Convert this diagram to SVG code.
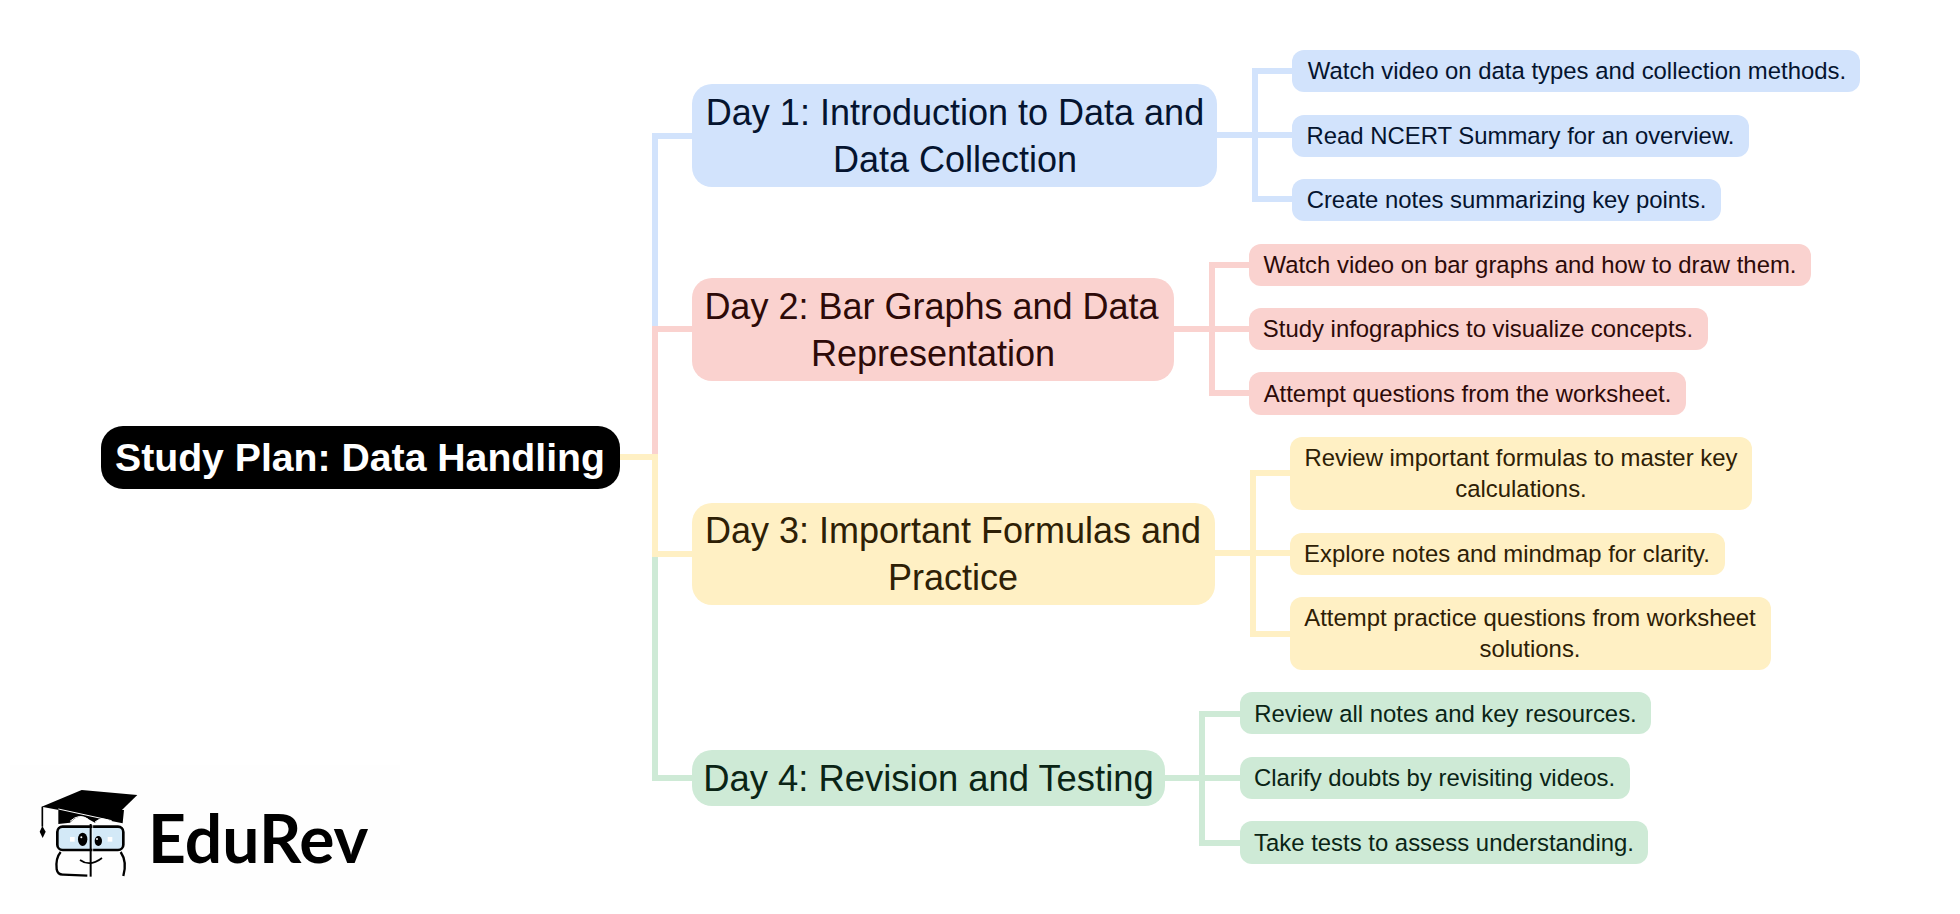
<svg xmlns="http://www.w3.org/2000/svg" width="1960" height="914" viewBox="0 0 1960 914">
<style>
text{font-family:"Liberation Sans",Arial,sans-serif;text-anchor:middle}
.d{font-size:36px}.s{font-size:23.9px}
.c{fill:none;stroke-width:6}
.bc{stroke:#d2e3fc}.rc{stroke:#fad2cf}.yc{stroke:#fff0c4}.gc{stroke:#ceead6}
.b{fill:#d2e3fc}.r{fill:#fad2cf}.y{fill:#fff0c4}.g{fill:#ceead6}
.bt{fill:#05142f}.rt{fill:#2d0a08}.yt{fill:#2e2005}.gt{fill:#0a2415}
</style>
<rect width="1960" height="914" fill="#fff"/>
<g id="connectors">
<path class="c bc" d="M655 454V136H692"/>
<path class="c rc" d="M655 454V329H692"/>
<path class="c gc" d="M655 557V778H692"/>
<path class="c yc" d="M620 457H655V554H692"/>
<path class="c bc" d="M1217 135H1292M1292 71H1255V199H1292"/>
<path class="c rc" d="M1174 329H1249M1249 265H1212V393H1249"/>
<path class="c yc" d="M1215 553H1290M1290 473H1253V634H1290"/>
<path class="c gc" d="M1165 778H1240M1240 714H1202V843H1240"/>
</g>
<g id="root"><rect x="101" y="426" width="519" height="63" rx="22" fill="#000"/><text x="360" y="471" font-size="39.200" font-weight="700" fill="#fff">Study Plan: Data Handling</text></g>
<g id="day1"><rect class="b" x="692" y="84" width="525" height="103" rx="20"/><text class="d bt" x="955" y="124.500">Day 1: Introduction to Data and</text><text class="d bt" x="955" y="171.500">Data Collection</text></g>
<g id="day1a"><rect class="b" x="1292" y="50" width="568" height="42" rx="12"/><text class="s bt" x="1577" y="79">Watch video on data types and collection methods.</text></g>
<g id="day1b"><rect class="b" x="1292" y="115" width="457" height="42" rx="12"/><text class="s bt" x="1520.500" y="144">Read NCERT Summary for an overview.</text></g>
<g id="day1c"><rect class="b" x="1292" y="179" width="429" height="42" rx="12"/><text class="s bt" x="1506.500" y="208">Create notes summarizing key points.</text></g>
<g id="day2"><rect class="r" x="692" y="278" width="482" height="103" rx="20"/><text class="d rt" x="931.500" y="318.500">Day 2: Bar Graphs and Data</text><text class="d rt" x="933" y="365.500">Representation</text></g>
<g id="day2a"><rect class="r" x="1249" y="244" width="562" height="42" rx="12"/><text class="s rt" x="1530" y="273">Watch video on bar graphs and how to draw them.</text></g>
<g id="day2b"><rect class="r" x="1249" y="308" width="459" height="42" rx="12"/><text class="s rt" x="1478" y="337">Study infographics to visualize concepts.</text></g>
<g id="day2c"><rect class="r" x="1249" y="372" width="437" height="43" rx="12"/><text class="s rt" x="1467.500" y="402">Attempt questions from the worksheet.</text></g>
<g id="day3"><rect class="y" x="692" y="503" width="523" height="102" rx="20"/><text class="d yt" x="953" y="542.500">Day 3: Important Formulas and</text><text class="d yt" x="953" y="589.500">Practice</text></g>
<g id="day3a"><rect class="y" x="1290" y="437" width="462" height="73" rx="12"/><text class="s yt" x="1521" y="466">Review important formulas to master key</text><text class="s yt" x="1521" y="497">calculations.</text></g>
<g id="day3b"><rect class="y" x="1290" y="533" width="435" height="42" rx="12"/><text class="s yt" x="1507" y="562">Explore notes and mindmap for clarity.</text></g>
<g id="day3c"><rect class="y" x="1290" y="597" width="481" height="73" rx="12"/><text class="s yt" x="1530" y="626">Attempt practice questions from worksheet</text><text class="s yt" x="1530" y="657">solutions.</text></g>
<g id="day4"><rect class="g" x="692" y="750" width="473" height="56" rx="20"/><text class="d gt" x="928.500" y="790.500" style="font-size:36.400px">Day 4: Revision and Testing</text></g>
<g id="day4a"><rect class="g" x="1240" y="692" width="411" height="42" rx="12"/><text class="s gt" x="1445.500" y="722">Review all notes and key resources.</text></g>
<g id="day4b"><rect class="g" x="1240" y="757" width="390" height="42" rx="12"/><text class="s gt" x="1434.500" y="786">Clarify doubts by revisiting videos.</text></g>
<g id="day4c"><rect class="g" x="1240" y="821" width="408" height="43" rx="12"/><text class="s gt" x="1444" y="851">Take tests to assess understanding.</text></g>
<g id="logo">
<rect x="10" y="765" width="390" height="135" fill="#fefefe"/>
<g transform="translate(30 780) scale(.3333)">
<path d="M85 88V132L120 128Q150 95 180 120L195 128Q215 105 240 122L278 130 282 90Z" fill="#000"/>
<path d="M35 80 155 30 322 45 245 120Z" fill="#000"/>
<path d="M85 87 245 122" stroke="#fff" stroke-width="3" fill="none"/>
<path d="M37 80V140" stroke="#000" stroke-width="5" fill="none"/>
<path d="M37 138 47 155 38 174 29 155Z" fill="#000"/>
<rect x="82" y="140" width="198" height="70" rx="16" fill="#d3e9f7" stroke="#000" stroke-width="8"/>
<path d="M92 216Q76 235 80 268Q83 285 100 284L172 287M272 216Q292 245 280 288" fill="none" stroke="#000" stroke-width="7"/>
<path d="M182 132V290" stroke="#000" stroke-width="6" fill="none"/>
<path d="M188 132V290" stroke="#fff" stroke-width="2" fill="none"/>
<ellipse cx="158" cy="178" rx="14" ry="20" fill="#000"/><ellipse cx="205" cy="183" rx="11" ry="15" fill="#000"/>
<circle cx="154" cy="172" r="3" fill="#fff"/><circle cx="201" cy="177" r="3" fill="#fff"/>
<rect x="120" y="171" width="14" height="14" fill="#fff"/><rect x="233" y="171" width="14" height="14" fill="#fff"/>
<path d="M150 240Q180 262 216 234" fill="none" stroke="#000" stroke-width="5"/>
<path d="M120 124Q148 98 175 118M195 126Q212 112 232 124" fill="none" stroke="#fff" stroke-width="3"/>
</g>
<text x="148" y="863" font-size="66" font-weight="700" fill="#000" style="font-family:Lato,'Open Sans',sans-serif;text-anchor:start">EduRev</text>
</g>
</svg>
